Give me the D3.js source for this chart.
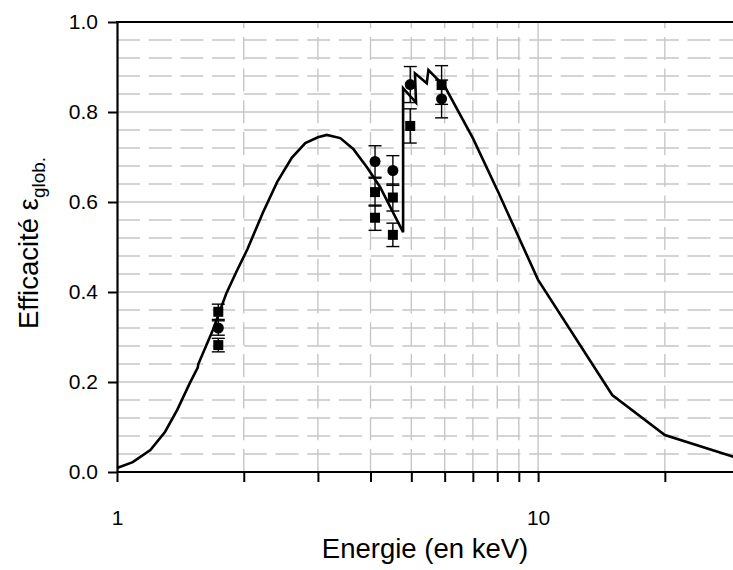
<!DOCTYPE html>
<html><head><meta charset="utf-8">
<script src="https://cdn.jsdelivr.net/npm/d3@7"></script>
<style>body{margin:0;background:#fff}svg{display:block}</style>
</head><body>
<svg id="chart" width="733" height="570"></svg>
<script>
// Theoretical efficiency curve (order kept as drawn, including the zigzag near 5 keV)
const curveE = [1, 1.09, 1.2, 1.3, 1.39, 1.49, 1.555, 1.56, 1.69, 1.82, 1.93, 2.04, 2.22, 2.4, 2.6, 2.8, 3.0, 3.15, 3.39, 3.64, 3.93, 4.21, 4.78, 4.78, 5.13, 5.1, 5.44, 5.49, 6.01, 7.0, 8.05, 10, 15, 20, 30];
const curveV = [0.009, 0.022, 0.049, 0.089, 0.138, 0.198, 0.232, 0.240, 0.316, 0.398, 0.449, 0.495, 0.576, 0.644, 0.698, 0.731, 0.744, 0.749, 0.742, 0.718, 0.676, 0.634, 0.533, 0.853, 0.821, 0.886, 0.864, 0.893, 0.856, 0.742, 0.621, 0.427, 0.171, 0.082, 0.03];

// Measured points: circles
const circE = [1.74, 4.10, 4.52, 4.97, 5.90];
const circV = [0.320, 0.690, 0.670, 0.861, 0.829];
const circErr = [0.016, 0.035, 0.033, 0.040, 0.042];
// Measured points: squares
const sqE = [1.74, 1.74, 4.10, 4.10, 4.52, 4.52, 4.97, 5.90];
const sqV = [0.356, 0.282, 0.622, 0.565, 0.610, 0.527, 0.769, 0.860];
const sqErr = [0.017, 0.015, 0.031, 0.028, 0.030, 0.026, 0.038, 0.043];

const xMajor = [1, 10];
const xMinor = [2, 3, 4, 5, 6, 7, 8, 9, 20, 30];
const yTicks = [0, 0.2, 0.4, 0.6, 0.8, 1.0];
const yMinor = [0.04,0.08,0.12,0.16,0.24,0.28,0.32,0.36,0.44,0.48,0.52,0.56,0.64,0.68,0.72,0.76,0.84,0.88,0.92,0.96];

(function () {
const svg = d3.select("#chart");
const mL = 117, mT = 22, mB = 472, mR = 739;
const x = d3.scaleLog().domain([1, 30]).range([mL, mR]);
const y = d3.scaleLinear().domain([0, 1]).range([mB, mT]);
const font = "Liberation Sans, Arial, sans-serif";
const gridCol = "#c6c6c6";

// grid
const g = svg.append("g");
g.selectAll("line.hmin").data(yMinor).join("line")
  .attr("x1", mL).attr("x2", 733).attr("y1", d => y(d)).attr("y2", d => y(d))
  .attr("stroke", gridCol).attr("stroke-width", 1.4).attr("stroke-dasharray", "23,8.7");
g.selectAll("line.hmaj").data(yTicks.filter(d => d > 0 && d < 1)).join("line")
  .attr("x1", mL).attr("x2", 733).attr("y1", d => y(d)).attr("y2", d => y(d))
  .attr("stroke", gridCol).attr("stroke-width", 1.4);
g.selectAll("line.vmin").data(xMinor).join("line")
  .attr("x1", d => x(d)).attr("x2", d => x(d)).attr("y1", mB).attr("y2", mT)
  .attr("stroke", gridCol).attr("stroke-width", 1.4).attr("stroke-dasharray", "23,8.7");
g.selectAll("line.vmaj").data([10]).join("line")
  .attr("x1", d => x(d)).attr("x2", d => x(d)).attr("y1", mB).attr("y2", mT)
  .attr("stroke", gridCol).attr("stroke-width", 1.4);

// axes
const xAxis = d3.axisBottom(x).tickValues(xMajor.concat(xMinor)).tickSize(10).tickSizeOuter(0)
  .tickFormat(d => xMajor.includes(d) ? String(d) : "");
const gx = svg.append("g").attr("transform", `translate(0,${mB})`).call(xAxis);
gx.select(".domain").attr("d", `M${mL},0H733`).attr("stroke-width", 2.2);
gx.selectAll(".tick line").attr("stroke-width", 2);
gx.selectAll(".tick text").attr("font-family", font).attr("font-size", 21)
  .attr("y", 53).attr("dy", 0).attr("fill", "#000");

const yAxis = d3.axisLeft(y).tickValues(yTicks).tickSize(9).tickSizeOuter(0).tickFormat(d3.format(".1f"));
const gy = svg.append("g").attr("transform", `translate(${mL},0)`).call(yAxis);
gy.select(".domain").attr("stroke-width", 2.2);
gy.selectAll(".tick line").attr("stroke-width", 2);
gy.selectAll(".tick text").attr("font-family", font).attr("font-size", 21).attr("x", -19).attr("fill", "#000");

// top frame
svg.append("line").attr("x1", mL - 1).attr("x2", 733).attr("y1", y(1)).attr("y2", y(1))
  .attr("stroke", "#000").attr("stroke-width", 2.2);

// curve
const pts = curveE.map((e, i) => [e, curveV[i]]);
svg.append("path").datum(pts)
  .attr("d", d3.line().x(d => x(d[0])).y(d => y(d[1])))
  .attr("fill", "none").attr("stroke", "#000").attr("stroke-width", 2.6).attr("stroke-linejoin", "miter");

// error bars
function errBars(E, V, Er) {
  const eg = svg.append("g").attr("stroke", "#000").attr("stroke-width", 1.4);
  E.forEach((e, i) => {
    const cx = x(e), y1 = y(V[i] + Er[i]), y2 = y(V[i] - Er[i]);
    eg.append("line").attr("x1", cx).attr("x2", cx).attr("y1", y1).attr("y2", y2);
    eg.append("line").attr("x1", cx - 6.5).attr("x2", cx + 6.5).attr("y1", y1).attr("y2", y1);
    eg.append("line").attr("x1", cx - 6.5).attr("x2", cx + 6.5).attr("y1", y2).attr("y2", y2);
  });
}
errBars(sqE, sqV, sqErr);
errBars(circE, circV, circErr);

svg.append("g").selectAll("rect").data(sqE.map((e, i) => [e, sqV[i]])).join("rect")
  .attr("x", d => x(d[0]) - 5).attr("y", d => y(d[1]) - 5).attr("width", 10).attr("height", 10).attr("fill", "#000");
svg.append("g").selectAll("circle").data(circE.map((e, i) => [e, circV[i]])).join("circle")
  .attr("cx", d => x(d[0])).attr("cy", d => y(d[1])).attr("r", 5.5).attr("fill", "#000");

// labels
svg.append("text").attr("x", 425).attr("y", 558).attr("text-anchor", "middle")
  .attr("font-family", font).attr("font-size", 27.5).text("Energie (en keV)");
const yl = svg.append("text").attr("transform", "translate(38,243) rotate(-90)").attr("text-anchor", "middle")
  .attr("font-family", font).attr("font-size", 27.5);
yl.append("tspan").text("Efficacité ε");
yl.append("tspan").attr("font-size", 19).attr("dy", 7).text("glob.");
})();
</script>
</body></html>
